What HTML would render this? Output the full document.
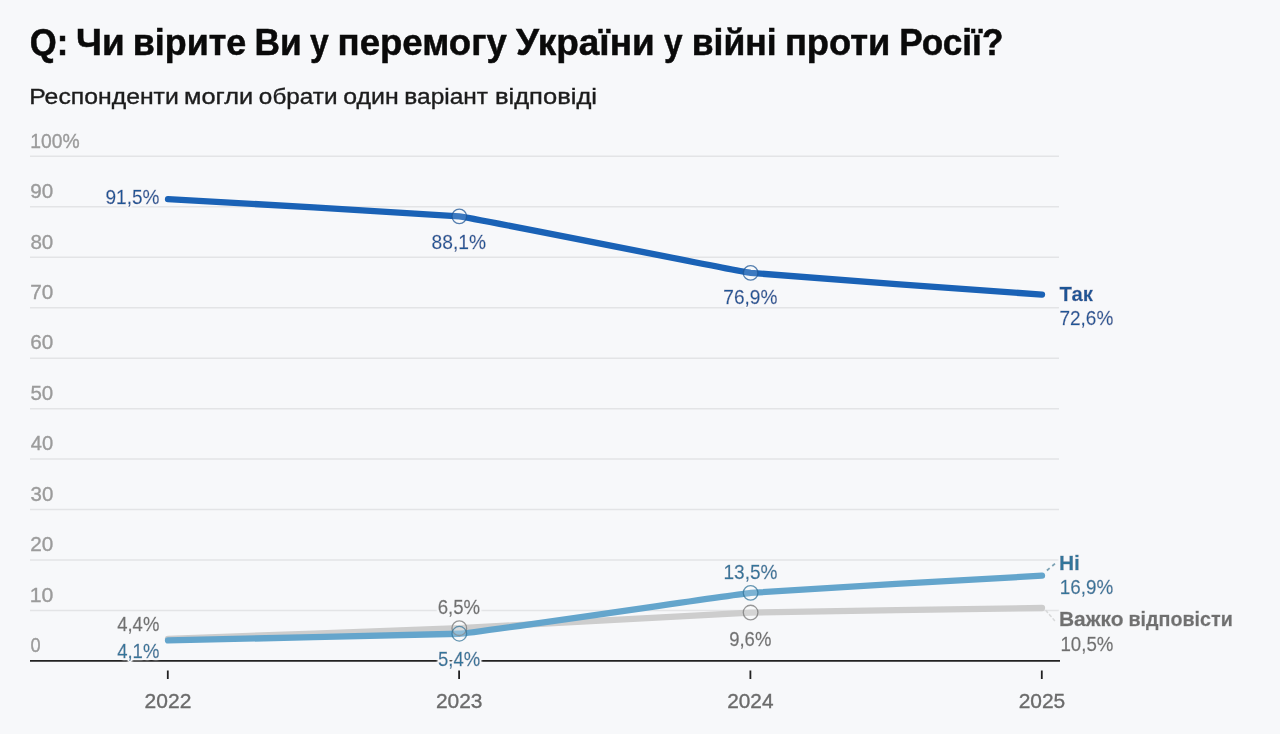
<!DOCTYPE html>
<html lang="uk"><head><meta charset="utf-8"><title>Chart</title>
<style>html,body{margin:0;padding:0;background:#f7f8fa;}body{width:1280px;height:734px;overflow:hidden;}svg{display:block;}text{font-family:"Liberation Sans",sans-serif;}.h{filter:url(#halo);}.b{font-weight:700;}</style></head><body>
<svg width="1280" height="734" viewBox="0 0 1280 734">
<defs><filter id="halo" x="-10%" y="-30%" width="120%" height="160%"><feMorphology in="SourceAlpha" operator="dilate" radius="1.4" result="d"/><feGaussianBlur in="d" stdDeviation="1.0" result="db"/><feComponentTransfer in="db" result="dc"><feFuncA type="linear" slope="2.2" intercept="0"/></feComponentTransfer><feFlood flood-color="#f7f8fa"/><feComposite in2="dc" operator="in"/><feMerge><feMergeNode/><feMergeNode in="SourceGraphic"/></feMerge></filter></defs>
<rect width="1280" height="734" fill="#f7f8fa"/>
<text class="b" y="55.00" font-size="37.5" fill="#0a0a0a" stroke="#0a0a0a" stroke-width="0.5"><tspan x="29.83" textLength="38.51" lengthAdjust="spacingAndGlyphs">Q:</tspan> <tspan x="76.11" textLength="48.70" lengthAdjust="spacingAndGlyphs">Чи</tspan> <tspan x="132.75" textLength="113.48" lengthAdjust="spacingAndGlyphs">вірите</tspan> <tspan x="254.54" textLength="47.21" lengthAdjust="spacingAndGlyphs">Ви</tspan> <tspan x="310.04" textLength="18.74" lengthAdjust="spacingAndGlyphs">у</tspan> <tspan x="337.56" textLength="169.24" lengthAdjust="spacingAndGlyphs">перемогу</tspan> <tspan x="516.08" textLength="138.65" lengthAdjust="spacingAndGlyphs">України</tspan> <tspan x="664.04" textLength="18.54" lengthAdjust="spacingAndGlyphs">у</tspan> <tspan x="691.72" textLength="84.90" lengthAdjust="spacingAndGlyphs">війні</tspan> <tspan x="784.89" textLength="105.51" lengthAdjust="spacingAndGlyphs">проти</tspan> <tspan x="899.18" textLength="104.22" lengthAdjust="spacingAndGlyphs">Росії?</tspan></text>
<text y="104.10" font-size="22" fill="#1c1c1c" stroke="#1c1c1c" stroke-width="0.35"><tspan x="29.18" textLength="149.62" lengthAdjust="spacingAndGlyphs">Респонденти</tspan> <tspan x="183.96" textLength="69.19" lengthAdjust="spacingAndGlyphs">могли</tspan> <tspan x="258.89" textLength="78.59" lengthAdjust="spacingAndGlyphs">обрати</tspan> <tspan x="343.27" textLength="55.44" lengthAdjust="spacingAndGlyphs">один</tspan> <tspan x="404.31" textLength="83.71" lengthAdjust="spacingAndGlyphs">варіант</tspan> <tspan x="494.93" textLength="102.10" lengthAdjust="spacingAndGlyphs">відповіді</tspan></text>
<line x1="30" x2="1059" y1="610.53" y2="610.53" stroke="#e3e4e6" stroke-width="1.5"/>
<line x1="30" x2="1059" y1="560.06" y2="560.06" stroke="#e3e4e6" stroke-width="1.5"/>
<line x1="30" x2="1059" y1="509.59" y2="509.59" stroke="#e3e4e6" stroke-width="1.5"/>
<line x1="30" x2="1059" y1="459.12" y2="459.12" stroke="#e3e4e6" stroke-width="1.5"/>
<line x1="30" x2="1059" y1="408.65" y2="408.65" stroke="#e3e4e6" stroke-width="1.5"/>
<line x1="30" x2="1059" y1="358.18" y2="358.18" stroke="#e3e4e6" stroke-width="1.5"/>
<line x1="30" x2="1059" y1="307.71" y2="307.71" stroke="#e3e4e6" stroke-width="1.5"/>
<line x1="30" x2="1059" y1="257.24" y2="257.24" stroke="#e3e4e6" stroke-width="1.5"/>
<line x1="30" x2="1059" y1="206.77" y2="206.77" stroke="#e3e4e6" stroke-width="1.5"/>
<line x1="30" x2="1059" y1="156.30" y2="156.30" stroke="#e3e4e6" stroke-width="1.5"/>
<text x="30.59" y="652.30" font-size="20.5" fill="#9b9b9b" textLength="10.12" lengthAdjust="spacingAndGlyphs" stroke="#9b9b9b" stroke-width="0.35">0</text>
<text x="29.68" y="601.83" font-size="20.5" fill="#9b9b9b" textLength="23.65" lengthAdjust="spacingAndGlyphs" stroke="#9b9b9b" stroke-width="0.35">10</text>
<text x="30.26" y="551.36" font-size="20.5" fill="#9b9b9b" textLength="23.05" lengthAdjust="spacingAndGlyphs" stroke="#9b9b9b" stroke-width="0.35">20</text>
<text x="30.52" y="500.89" font-size="20.5" fill="#9b9b9b" textLength="22.78" lengthAdjust="spacingAndGlyphs" stroke="#9b9b9b" stroke-width="0.35">30</text>
<text x="30.84" y="450.42" font-size="20.5" fill="#9b9b9b" textLength="22.45" lengthAdjust="spacingAndGlyphs" stroke="#9b9b9b" stroke-width="0.35">40</text>
<text x="30.48" y="399.95" font-size="20.5" fill="#9b9b9b" textLength="22.82" lengthAdjust="spacingAndGlyphs" stroke="#9b9b9b" stroke-width="0.35">50</text>
<text x="30.25" y="349.48" font-size="20.5" fill="#9b9b9b" textLength="23.06" lengthAdjust="spacingAndGlyphs" stroke="#9b9b9b" stroke-width="0.35">60</text>
<text x="30.24" y="299.01" font-size="20.5" fill="#9b9b9b" textLength="23.07" lengthAdjust="spacingAndGlyphs" stroke="#9b9b9b" stroke-width="0.35">70</text>
<text x="30.41" y="248.54" font-size="20.5" fill="#9b9b9b" textLength="22.90" lengthAdjust="spacingAndGlyphs" stroke="#9b9b9b" stroke-width="0.35">80</text>
<text x="30.33" y="198.07" font-size="20.5" fill="#9b9b9b" textLength="22.98" lengthAdjust="spacingAndGlyphs" stroke="#9b9b9b" stroke-width="0.35">90</text>
<text x="30.33" y="147.60" font-size="20.5" fill="#9b9b9b" textLength="49.36" lengthAdjust="spacingAndGlyphs" stroke="#9b9b9b" stroke-width="0.35">100%</text>
<line x1="30" x2="1060" y1="660.80" y2="660.80" stroke="#222" stroke-width="1.8"/>
<line x1="167.80" x2="167.80" y1="670.5" y2="679" stroke="#222" stroke-width="1.8"/>
<text x="144.64" y="707.60" font-size="20.5" fill="#6b6b6b" textLength="46.71" lengthAdjust="spacingAndGlyphs" stroke="#6b6b6b" stroke-width="0.35">2022</text>
<line x1="459.10" x2="459.10" y1="670.5" y2="679" stroke="#222" stroke-width="1.8"/>
<text x="435.95" y="707.60" font-size="20.5" fill="#6b6b6b" textLength="46.57" lengthAdjust="spacingAndGlyphs" stroke="#6b6b6b" stroke-width="0.35">2023</text>
<line x1="750.40" x2="750.40" y1="670.5" y2="679" stroke="#222" stroke-width="1.8"/>
<text x="727.25" y="707.60" font-size="20.5" fill="#6b6b6b" textLength="46.25" lengthAdjust="spacingAndGlyphs" stroke="#6b6b6b" stroke-width="0.35">2024</text>
<line x1="1041.80" x2="1041.80" y1="670.5" y2="679" stroke="#222" stroke-width="1.8"/>
<text x="1018.65" y="707.60" font-size="20.5" fill="#6b6b6b" textLength="46.53" lengthAdjust="spacingAndGlyphs" stroke="#6b6b6b" stroke-width="0.35">2025</text>
<path d="M168.00,199.20C182.56,199.63,444.74,214.64,459.30,216.36C473.87,218.08,736.03,270.93,750.60,272.89C765.17,274.84,1027.43,293.94,1042.00,294.59" fill="none" stroke="#1a62b6" stroke-width="6.3" stroke-linecap="round" stroke-linejoin="round"/>
<path d="M168.00,638.79C182.56,638.33,444.74,628.85,459.30,628.19C473.87,627.54,736.03,613.00,750.60,612.55C765.17,612.09,1027.43,608.12,1042.00,608.01" fill="none" stroke="#cdcdcd" stroke-width="6.3" stroke-linecap="round" stroke-linejoin="round"/>
<path d="M168.00,640.31C182.56,640.14,444.74,634.40,459.30,633.75C473.87,633.09,736.03,594.32,750.60,592.87C765.17,591.41,1027.43,576.27,1042.00,575.71" fill="none" stroke="#64a5cc" stroke-width="6.3" stroke-linecap="round" stroke-linejoin="round"/>
<line x1="1046.9" y1="570.5" x2="1055.3" y2="563.4" stroke="#7ea3b5" stroke-width="1.8" stroke-dasharray="3.6 3.4"/>
<line x1="1046" y1="610.6" x2="1054.5" y2="620.5" stroke="#d9dadb" stroke-width="1.6" stroke-dasharray="2.4 3" stroke-linecap="round"/>
<circle cx="459.30" cy="216.36" r="7.3" fill="#ffffff" fill-opacity="0.15" stroke="#1d5596" stroke-opacity="0.75" stroke-width="1.3"/>
<circle cx="750.60" cy="272.89" r="7.3" fill="#ffffff" fill-opacity="0.15" stroke="#1d5596" stroke-opacity="0.75" stroke-width="1.3"/>
<circle cx="459.30" cy="628.19" r="7.3" fill="#ffffff" fill-opacity="0.15" stroke="#777777" stroke-opacity="0.75" stroke-width="1.3"/>
<circle cx="750.60" cy="612.55" r="7.3" fill="#ffffff" fill-opacity="0.15" stroke="#777777" stroke-opacity="0.75" stroke-width="1.3"/>
<circle cx="459.30" cy="633.75" r="7.3" fill="#ffffff" fill-opacity="0.15" stroke="#33749a" stroke-opacity="0.75" stroke-width="1.3"/>
<circle cx="750.60" cy="592.87" r="7.3" fill="#ffffff" fill-opacity="0.15" stroke="#33749a" stroke-opacity="0.75" stroke-width="1.3"/>
<text class="h" x="105.51" y="203.80" font-size="20.5" fill="#1d5596" textLength="53.97" lengthAdjust="spacingAndGlyphs" stroke="#1d5596" stroke-width="0.35">91,5%</text>
<text class="h" x="117.18" y="631.40" font-size="20.5" fill="#6f6f6f" textLength="42.18" lengthAdjust="spacingAndGlyphs" stroke="#6f6f6f" stroke-width="0.35">4,4%</text>
<text class="h" x="117.18" y="658.10" font-size="20.5" fill="#33749a" textLength="42.18" lengthAdjust="spacingAndGlyphs" stroke="#33749a" stroke-width="0.35">4,1%</text>
<text class="h" x="431.57" y="248.60" font-size="20.5" fill="#1d5596" textLength="54.42" lengthAdjust="spacingAndGlyphs" stroke="#1d5596" stroke-width="0.35">88,1%</text>
<text class="h" x="723.32" y="304.30" font-size="20.5" fill="#1d5596" textLength="54.16" lengthAdjust="spacingAndGlyphs" stroke="#1d5596" stroke-width="0.35">76,9%</text>
<text class="h" x="437.76" y="613.90" font-size="20.5" fill="#6f6f6f" textLength="42.41" lengthAdjust="spacingAndGlyphs" stroke="#6f6f6f" stroke-width="0.35">6,5%</text>
<text class="h" x="437.96" y="665.60" font-size="20.5" fill="#33749a" textLength="42.20" lengthAdjust="spacingAndGlyphs" stroke="#33749a" stroke-width="0.35">5,4%</text>
<text class="h" x="723.45" y="578.50" font-size="20.5" fill="#33749a" textLength="54.03" lengthAdjust="spacingAndGlyphs" stroke="#33749a" stroke-width="0.35">13,5%</text>
<text class="h" x="729.13" y="645.90" font-size="20.5" fill="#6f6f6f" textLength="42.23" lengthAdjust="spacingAndGlyphs" stroke="#6f6f6f" stroke-width="0.35">9,6%</text>
<text class="h b" x="1059.57" y="300.60" font-size="20.5" fill="#1d5596" textLength="33.42" lengthAdjust="spacingAndGlyphs" stroke="#1d5596" stroke-width="0.35">Так</text>
<text class="h" x="1059.43" y="324.60" font-size="20.5" fill="#1d5596" textLength="53.85" lengthAdjust="spacingAndGlyphs" stroke="#1d5596" stroke-width="0.35">72,6%</text>
<text class="h b" x="1058.90" y="569.80" font-size="20.5" fill="#33749a" textLength="20.99" lengthAdjust="spacingAndGlyphs" stroke="#33749a" stroke-width="0.35">Ні</text>
<text class="h" x="1059.87" y="593.80" font-size="20.5" fill="#33749a" textLength="53.41" lengthAdjust="spacingAndGlyphs" stroke="#33749a" stroke-width="0.35">16,9%</text>
<text class="h b" y="626.10" font-size="20.5" fill="#6f6f6f" stroke="#6f6f6f" stroke-width="0.35"><tspan x="1058.90" textLength="64.71" lengthAdjust="spacingAndGlyphs">Важко</tspan> <tspan x="1128.42" textLength="104.34" lengthAdjust="spacingAndGlyphs">відповісти</tspan></text>
<text class="h" x="1060.48" y="650.70" font-size="20.5" fill="#6f6f6f" textLength="52.89" lengthAdjust="spacingAndGlyphs" stroke="#6f6f6f" stroke-width="0.35">10,5%</text>
</svg></body></html>
